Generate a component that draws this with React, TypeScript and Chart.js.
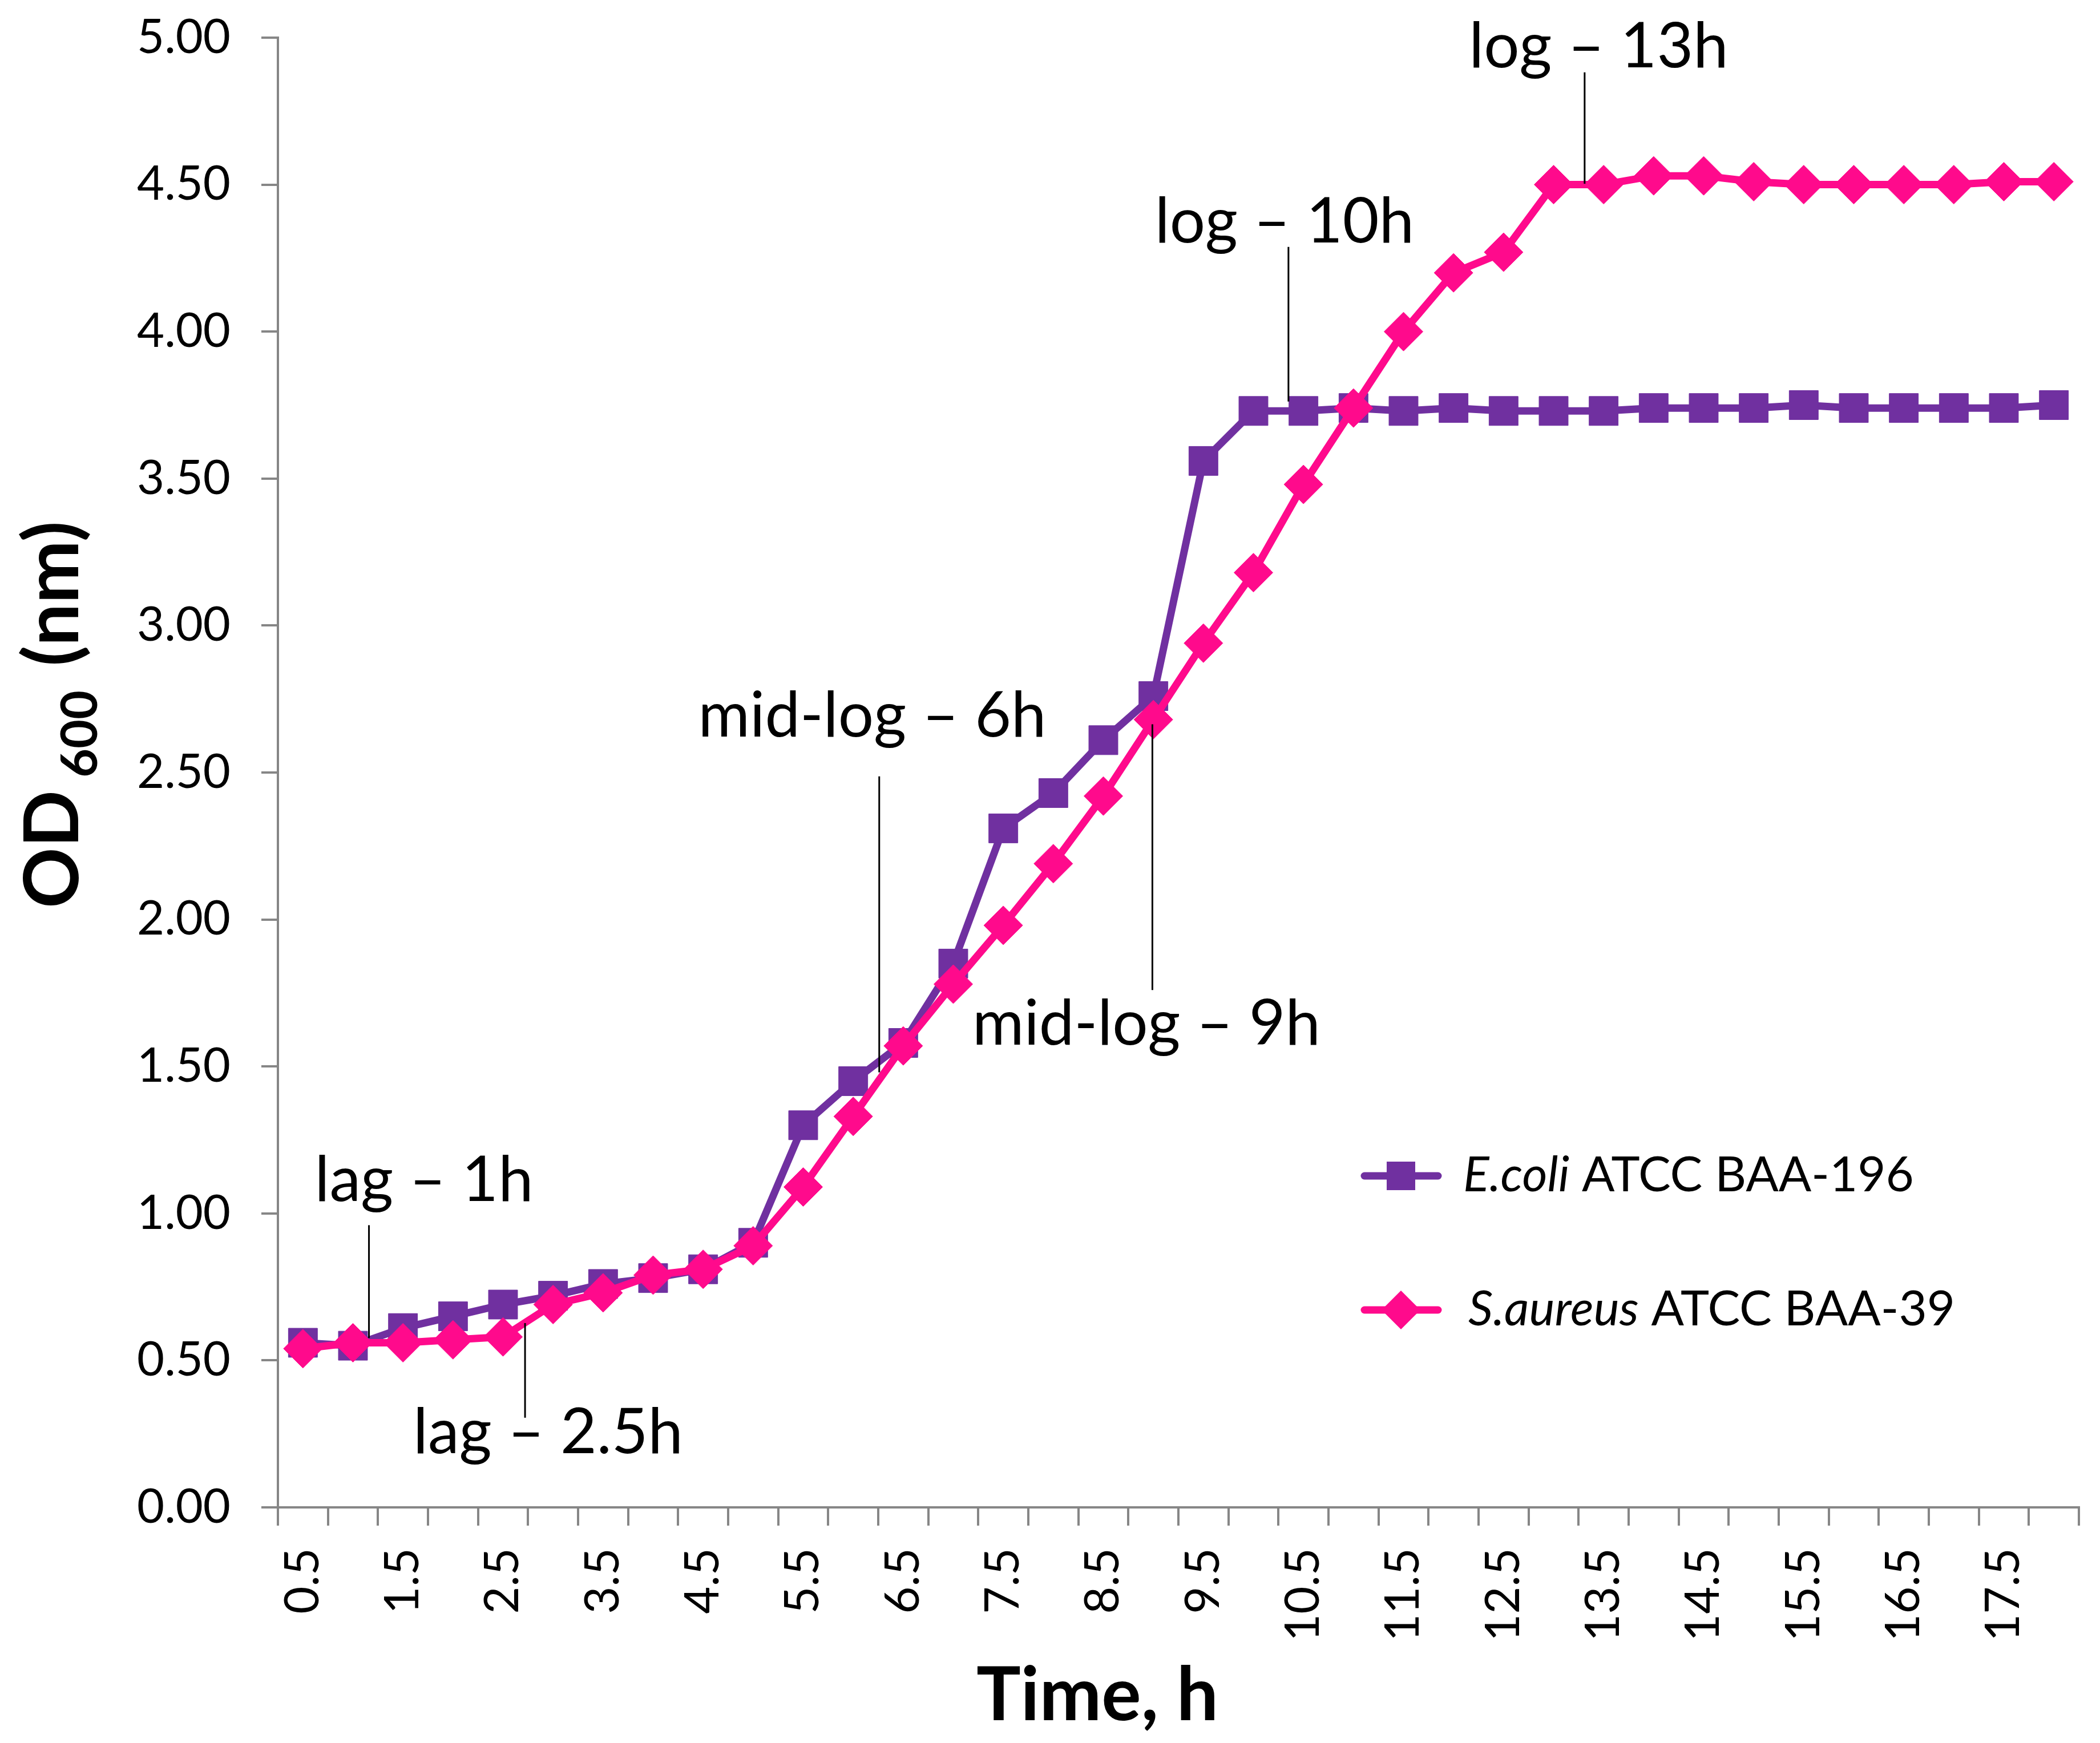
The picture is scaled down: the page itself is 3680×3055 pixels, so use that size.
import React, { useEffect, useRef } from 'react';
import { Chart, registerables } from 'chart.js';

Chart.register(...registerables);

const TIME_LABELS = [
  '0.5', '1', '1.5', '2', '2.5', '3', '3.5', '4', '4.5', '5', '5.5', '6',
  '6.5', '7', '7.5', '8', '8.5', '9', '9.5', '10', '10.5', '11', '11.5', '12',
  '12.5', '13', '13.5', '14', '14.5', '15', '15.5', '16', '16.5', '17', '17.5', '18',
];

const ECOLI = [
  0.56, 0.55, 0.61, 0.65, 0.69, 0.72, 0.76, 0.78, 0.81, 0.90, 1.30, 1.45,
  1.58, 1.85, 2.31, 2.43, 2.61, 2.76, 3.56, 3.73, 3.73, 3.74, 3.73, 3.74,
  3.73, 3.73, 3.73, 3.74, 3.74, 3.74, 3.75, 3.74, 3.74, 3.74, 3.74, 3.75,
];

const SAUREUS = [
  0.54, 0.56, 0.56, 0.57, 0.58, 0.69, 0.73, 0.79, 0.81, 0.89, 1.09, 1.33,
  1.57, 1.78, 1.98, 2.19, 2.42, 2.68, 2.94, 3.18, 3.48, 3.74, 4.00, 4.20,
  4.27, 4.50, 4.50, 4.53, 4.53, 4.51, 4.50, 4.50, 4.50, 4.50, 4.51, 4.51,
];

const SERIES_NAMES_ITALIC = ['E.coli', 'S.aureus'];
const SERIES_NAMES_REST = [' ATCC BAA-196', ' ATCC BAA-39'];

// annotation: text, vertical line at time lineT from value lineTop to lineBottom, text centred at time textT with baseline at value textV
const ANNOT_TEXT = ['lag – 1h', 'lag – 2.5h', 'mid-log – 6h', 'mid-log – 9h', 'log – 10h', 'log – 13h'];
const ANNOT_LINE_T = [1.16, 2.72, 6.26, 8.99, 10.35, 13.31];
const ANNOT_LINE_TOP = [0.96, 0.627, 2.487, 2.664, 4.288, 4.882];
const ANNOT_LINE_BOTTOM = [0.576, 0.305, 1.48, 1.76, 3.762, 4.503];
const ANNOT_TEXT_T = [1.71, 2.95, 6.19, 8.93, 10.31, 13.45];
const ANNOT_TEXT_V = [1.042, 0.184, 2.623, 1.575, 4.303, 4.899];

const PURPLE = '#7030A0';
const PINK = '#FF0A8C';
const AXIS_GRAY = '#868686';
const FONT = 'Lato';

const timeToIndex = (t: number) => (t - 0.5) / 0.5;

const overlayPlugin = {
  id: 'overlay',
  afterDatasetsDraw(chart: any) {
    const ctx = chart.ctx;
    const xs = chart.scales.x;
    const ys = chart.scales.y;
    ctx.save();
    for (let i = 0; i < ANNOT_TEXT.length; i++) {
      const lx = xs.getPixelForValue(timeToIndex(ANNOT_LINE_T[i]));
      ctx.beginPath();
      ctx.strokeStyle = '#000';
      ctx.lineWidth = 3;
      ctx.moveTo(lx, ys.getPixelForValue(ANNOT_LINE_TOP[i]));
      ctx.lineTo(lx, ys.getPixelForValue(ANNOT_LINE_BOTTOM[i]));
      ctx.stroke();
      ctx.fillStyle = '#000';
      ctx.font = `110px ${FONT}`;
      ctx.textAlign = 'center';
      ctx.textBaseline = 'alphabetic';
      ctx.fillText(
        ANNOT_TEXT[i],
        xs.getPixelForValue(timeToIndex(ANNOT_TEXT_T[i])),
        ys.getPixelForValue(ANNOT_TEXT_V[i])
      );
    }
    ctx.restore();
  },
  afterDraw(chart: any) {
    const ctx = chart.ctx;
    const area = chart.chartArea;
    ctx.save();
    // legend
    const colors = [PURPLE, PINK];
    const legendX0 = area.left + 1904;
    const legendRowY = [area.top + 1995, area.top + 2230];
    for (let i = 0; i < 2; i++) {
      const y = legendRowY[i];
      ctx.strokeStyle = colors[i];
      ctx.lineWidth = 13;
      ctx.lineCap = 'round';
      ctx.beginPath();
      ctx.moveTo(legendX0, y);
      ctx.lineTo(legendX0 + 129, y);
      ctx.stroke();
      ctx.fillStyle = colors[i];
      const cx = legendX0 + 64;
      ctx.beginPath();
      if (i === 0) {
        ctx.rect(cx - 25, y - 25, 50, 50);
      } else {
        ctx.moveTo(cx - 34, y);
        ctx.lineTo(cx, y - 34);
        ctx.lineTo(cx + 34, y);
        ctx.lineTo(cx, y + 34);
        ctx.closePath();
      }
      ctx.fill();
      ctx.fillStyle = '#000';
      ctx.textBaseline = 'middle';
      ctx.textAlign = 'left';
      let tx = legendX0 + 173 + (i === 1 ? 9 : 0);
      ctx.font = `italic 85px ${FONT}`;
      ctx.fillText(SERIES_NAMES_ITALIC[i], tx, y);
      tx += ctx.measureText(SERIES_NAMES_ITALIC[i]).width;
      ctx.font = `85px ${FONT}`;
      ctx.fillText(SERIES_NAMES_REST[i], tx, y);
    }

    // y axis title with subscript
    ctx.fillStyle = '#000';
    ctx.save();
    ctx.translate(area.left - 350, area.top + 1526);
    ctx.rotate(-Math.PI / 2);
    ctx.textAlign = 'left';
    ctx.textBaseline = 'alphabetic';
    let x = 0;
    ctx.font = `bold 132px ${FONT}`;
    ctx.fillText('OD', x, 0);
    x += ctx.measureText('OD').width + 22;
    ctx.font = `bold 88px ${FONT}`;
    ctx.fillText('600', x, 33);
    x += ctx.measureText('600').width + 42;
    ctx.font = `bold 132px ${FONT}`;
    ctx.fillText('(nm)', x, 0);
    ctx.restore();

    // x axis title
    ctx.font = `bold 130px ${FONT}`;
    ctx.textAlign = 'center';
    ctx.textBaseline = 'alphabetic';
    ctx.fillText('Time, h', area.left + 1436, area.bottom + 373);
    ctx.restore();
  },
};

export default function App() {
  const canvasRef = useRef<HTMLCanvasElement | null>(null);

  useEffect(() => {
    document.body.style.margin = '0';
    const canvas = canvasRef.current;
    if (!canvas) return;
    const chart = new Chart(canvas, {
      type: 'line',
      data: {
        labels: TIME_LABELS,
        datasets: [
          {
            label: SERIES_NAMES_ITALIC[0] + SERIES_NAMES_REST[0],
            data: ECOLI,
            borderColor: PURPLE,
            backgroundColor: PURPLE,
            pointBackgroundColor: PURPLE,
            pointBorderColor: PURPLE,
            pointStyle: 'rect',
            pointRadius: 36,
            pointBorderWidth: 1,
            borderWidth: 13,
            tension: 0,
            clip: false as any,
            order: 2,
          },
          {
            label: SERIES_NAMES_ITALIC[1] + SERIES_NAMES_REST[1],
            data: SAUREUS,
            borderColor: PINK,
            backgroundColor: PINK,
            pointBackgroundColor: PINK,
            pointBorderColor: PINK,
            pointStyle: 'rectRot',
            pointRadius: 34,
            pointBorderWidth: 1,
            borderWidth: 13,
            tension: 0,
            clip: false as any,
            order: 1,
          },
        ],
      },
      options: {
        responsive: false,
        animation: false,
        devicePixelRatio: 1,
        layout: { padding: { top: 66, right: 27, left: 0, bottom: 0 } },
        plugins: {
          legend: { display: false },
          tooltip: { enabled: false },
        },
        scales: {
          x: {
            type: 'category',
            offset: true,
            afterFit: (scale: any) => {
              scale.height = 413;
              scale.paddingLeft = 0;
              scale.paddingRight = 0;
            },
            grid: {
              offset: true,
              drawOnChartArea: false,
              drawTicks: true,
              tickLength: 32,
              color: AXIS_GRAY,
              lineWidth: 4,
            },
            border: { display: true, color: AXIS_GRAY, width: 4 },
            ticks: {
              autoSkip: false,
              maxRotation: 90,
              minRotation: 90,
              padding: 39,
              color: '#000',
              font: { family: FONT, size: 83 },
              callback: (_v: any, i: number) => (i % 2 === 0 ? TIME_LABELS[i] : ''),
            },
          },
          y: {
            min: 0,
            max: 5,
            afterFit: (scale: any) => {
              scale.width = 487;
              scale.paddingTop = 0;
              scale.paddingBottom = 0;
            },
            grid: {
              drawOnChartArea: false,
              drawTicks: true,
              tickLength: 29,
              color: AXIS_GRAY,
              lineWidth: 4,
            },
            border: { display: true, color: AXIS_GRAY, width: 4 },
            ticks: {
              stepSize: 0.5,
              padding: 54,
              color: '#000',
              font: { family: FONT, size: 83 },
              callback: (v: any) => Number(v).toFixed(2),
            },
          },
        },
      },
      plugins: [overlayPlugin],
    });
    return () => chart.destroy();
  }, []);

  return (
    <div style={{ width: 3680, height: 3055, background: '#fff' }}>
      <canvas ref={canvasRef} width={3680} height={3055} style={{ display: 'block' }} />
    </div>
  );
}
